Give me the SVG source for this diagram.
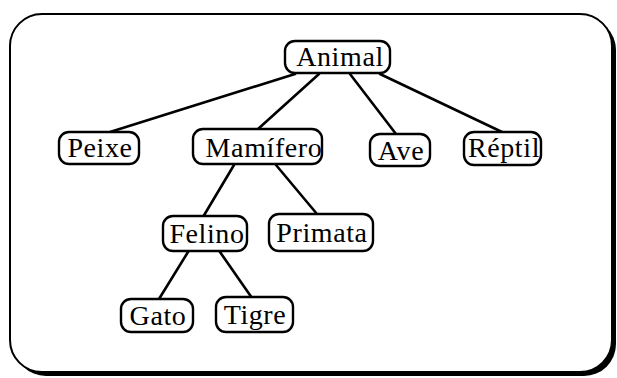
<svg xmlns="http://www.w3.org/2000/svg" width="617" height="378" viewBox="0 0 617 378">
  <style>
    .frame { fill: #fff; stroke: #000; stroke-width: 2; }
    .shadow { fill: #000; }
    .node rect { fill: #fff; stroke: #000; stroke-width: 2.4; }
    .node text { font-family: "Liberation Serif", "Times New Roman", serif; font-size: 28px; letter-spacing: 0.6px; fill: #000; text-anchor: middle; }
    .edges line { stroke: #000; stroke-width: 2.6; stroke-linecap: round; }
  </style>

  <!-- outer panel with drop shadow -->
  <rect class="shadow" x="14" y="18" width="602" height="358" rx="32" ry="32"/>
  <rect class="frame" x="10" y="14" width="602" height="358" rx="32" ry="32"/>

  <!-- tree edges -->
  <g id="edges" class="edges">
    <line x1="295" y1="74" x2="110" y2="132"/>
    <line x1="319" y1="74" x2="258" y2="129"/>
    <line x1="350" y1="74" x2="396" y2="134"/>
    <line x1="380" y1="74" x2="502" y2="132"/>
    <line x1="234" y1="165" x2="203" y2="217"/>
    <line x1="276" y1="165" x2="317" y2="214"/>
    <line x1="188" y1="252" x2="159" y2="299"/>
    <line x1="220" y1="252" x2="252" y2="298"/>
  </g>

  <g id="animal" class="node">
    <rect x="285" y="41" width="105" height="32" rx="10"/>
    <text x="340" y="66">Animal</text>
  </g>
  <g id="peixe" class="node">
    <rect x="59" y="132" width="80" height="32" rx="10"/>
    <text x="100" y="157">Peixe</text>
  </g>
  <g id="mamifero" class="node">
    <rect x="193" y="129" width="129" height="35" rx="10"/>
    <text x="264" y="157">Mamífero</text>
  </g>
  <g id="ave" class="node">
    <rect x="370" y="134" width="60" height="32" rx="10"/>
    <text x="401" y="160">Ave</text>
  </g>
  <g id="reptil" class="node">
    <rect x="464" y="132" width="77" height="33" rx="10"/>
    <text x="504" y="157">Réptil</text>
  </g>
  <g id="felino" class="node">
    <rect x="163" y="216" width="84" height="35" rx="10"/>
    <text x="207" y="243">Felino</text>
  </g>
  <g id="primata" class="node">
    <rect x="269" y="214" width="104" height="37" rx="10"/>
    <text x="322" y="242">Primata</text>
  </g>
  <g id="gato" class="node">
    <rect x="121" y="299" width="72" height="33" rx="10"/>
    <text x="158" y="325">Gato</text>
  </g>
  <g id="tigre" class="node">
    <rect x="216" y="297" width="77" height="35" rx="10"/>
    <text x="255" y="324">Tigre</text>
  </g>
</svg>
